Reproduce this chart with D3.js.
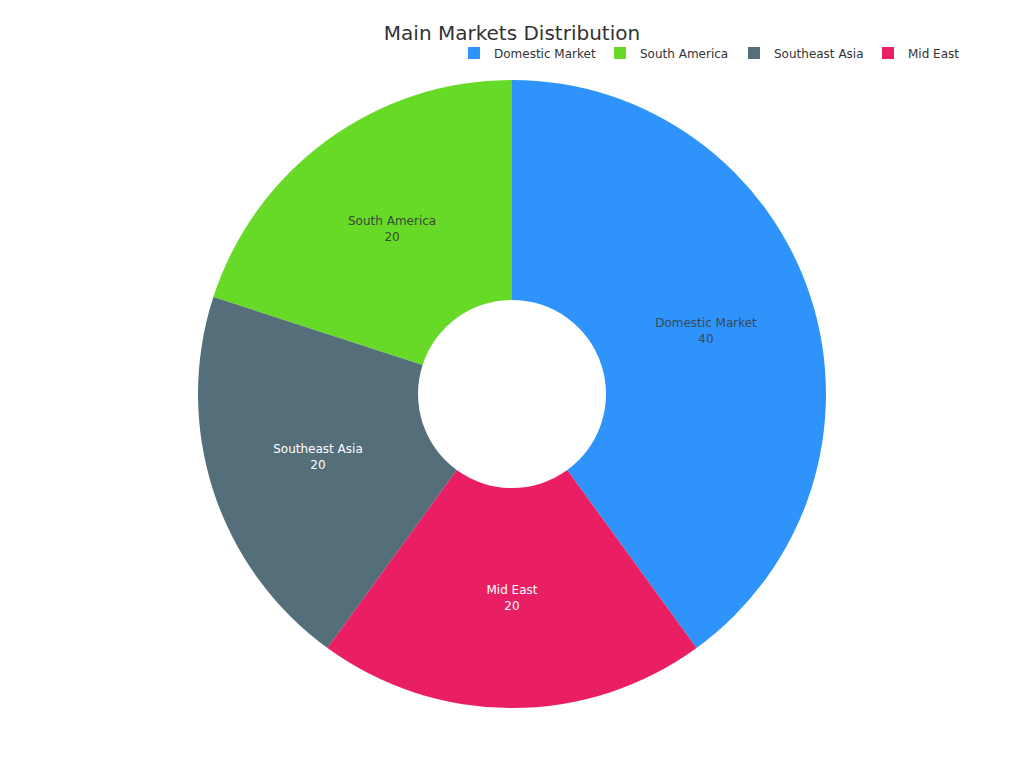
<!DOCTYPE html>
<html>
<head>
<meta charset="utf-8">
<script src="https://cdn.jsdelivr.net/npm/d3@7"></script>
<style>
  body { margin: 0; background: #fff; }
  svg { font-family: "DejaVu Sans", sans-serif; }
</style>
</head>
<body>
<svg id="chart" width="1024" height="768"></svg>
<script>
const categories = ["Domestic Market", "South America", "Southeast Asia", "Mid East"];
const values = [40, 20, 20, 20];
const colors = ["#2E93FA", "#66DA26", "#546E7A", "#E91E63"];
const labelColors = ["#3a4a5c", "#3a4a3a", "#ffffff", "#ffffff"];

const width = 1024;
const height = 768;
const cx = 512, cy = 394;
const outerR = 314, innerR = 94;

const svg = d3.select("#chart");

const data = categories.map((c, i) => ({ name: c, value: values[i], i }));

// slices run counter-clockwise, starting at 144deg
const pie = d3.pie()
  .sort(null)
  .value(d => d.value)
  .startAngle(0.8 * Math.PI)
  .endAngle(0.8 * Math.PI - 2 * Math.PI);

const arc = d3.arc().innerRadius(innerR).outerRadius(outerR);

const g = svg.append("g").attr("transform", `translate(${cx},${cy})`);

g.selectAll("path")
  .data(pie(data))
  .join("path")
  .attr("d", arc)
  .attr("fill", d => colors[d.data.i]);

const labels = g.selectAll("text.lbl")
  .data(pie(data))
  .join("text")
  .attr("class", "lbl")
  .attr("transform", d => `translate(${arc.centroid(d)})`)
  .attr("text-anchor", "middle")
  .attr("font-size", 12)
  .attr("fill", d => labelColors[d.data.i]);

labels.append("tspan").attr("x", 0).attr("dy", "-0.37em").text(d => d.data.name);
labels.append("tspan").attr("x", 0).attr("dy", "1.35em").text(d => d.data.value);

// title
svg.append("text")
  .attr("x", 512)
  .attr("y", 40)
  .attr("text-anchor", "middle")
  .attr("font-size", 20)
  .attr("fill", "#333")
  .text("Main Markets Distribution");

// legend
const legendX = [468, 614, 748, 882];
const legend = svg.append("g").selectAll("g")
  .data(data)
  .join("g")
  .attr("transform", d => `translate(${legendX[d.i]},47)`);

legend.append("rect")
  .attr("width", 12)
  .attr("height", 12)
  .attr("fill", d => colors[d.i]);

legend.append("text")
  .attr("x", 26)
  .attr("y", 10.5)
  .attr("font-size", 12)
  .attr("fill", "#333")
  .text(d => d.name);
</script>
</body>
</html>
